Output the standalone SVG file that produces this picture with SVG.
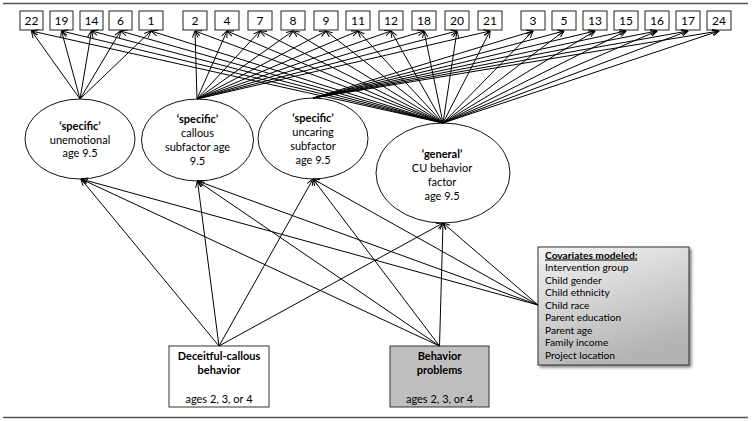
<svg xmlns="http://www.w3.org/2000/svg" width="752" height="421" viewBox="0 0 752 421">
<defs>
<marker id="ar" viewBox="0 0 10 10" refX="9.5" refY="5" markerWidth="7" markerHeight="7" orient="auto" markerUnits="userSpaceOnUse">
<path d="M0,1 L10,5 L0,9" fill="none" stroke="#000" stroke-width="1.4"/>
</marker>
<linearGradient id="cg" x1="0" y1="0" x2="0.4" y2="1">
<stop offset="0" stop-color="#f4f4f4"/>
<stop offset="1" stop-color="#b4b4b4"/>
</linearGradient>
<filter id="sh" x="-10%" y="-10%" width="130%" height="130%">
<feGaussianBlur in="SourceAlpha" stdDeviation="1.5"/>
<feOffset dx="2" dy="2" result="b"/>
<feComponentTransfer><feFuncA type="linear" slope="0.5"/></feComponentTransfer>
<feMerge><feMergeNode/><feMergeNode in="SourceGraphic"/></feMerge>
</filter>
</defs>
<style>
text{font-family:Lato,"Liberation Sans",sans-serif;fill:#000;}
.n{font-size:12px;text-anchor:middle;}
.e{font-size:11px;text-anchor:middle;}
.b{font-weight:bold;}
.item{fill:#fff;stroke:#222;stroke-width:1;}
.ell{fill:#fff;stroke:#111;stroke-width:1;}
.c line{stroke:#000;stroke-width:1;marker-end:url(#ar);}
.cov{font-size:10.2px;}
.rule{stroke:#555;stroke-width:1.3;}
</style>
<line class="rule" x1="3" y1="3.5" x2="748" y2="3.5"/>
<line class="rule" x1="3" y1="417.5" x2="748" y2="417.5"/>

<g id="item-22"><rect class="item" x="20" y="11" width="23" height="19"/><text class="n" x="31.5" y="25">22</text></g>
<g id="item-19"><rect class="item" x="50" y="11" width="23" height="19"/><text class="n" x="61.5" y="25">19</text></g>
<g id="item-14"><rect class="item" x="80" y="11" width="23" height="19"/><text class="n" x="91.5" y="25">14</text></g>
<g id="item-6"><rect class="item" x="109" y="11" width="23" height="19"/><text class="n" x="120.5" y="25">6</text></g>
<g id="item-1"><rect class="item" x="139" y="11" width="24" height="19"/><text class="n" x="151" y="25">1</text></g>
<g id="item-2"><rect class="item" x="183" y="11" width="24" height="19"/><text class="n" x="195" y="25">2</text></g>
<g id="item-4"><rect class="item" x="215" y="11" width="24" height="19"/><text class="n" x="227" y="25">4</text></g>
<g id="item-7"><rect class="item" x="248" y="11" width="24" height="19"/><text class="n" x="260" y="25">7</text></g>
<g id="item-8"><rect class="item" x="281" y="11" width="24" height="19"/><text class="n" x="293" y="25">8</text></g>
<g id="item-9"><rect class="item" x="314" y="11" width="24" height="19"/><text class="n" x="326" y="25">9</text></g>
<g id="item-11"><rect class="item" x="346" y="11" width="24" height="19"/><text class="n" x="358" y="25">11</text></g>
<g id="item-12"><rect class="item" x="379" y="11" width="24" height="19"/><text class="n" x="391" y="25">12</text></g>
<g id="item-18"><rect class="item" x="412" y="11" width="24" height="19"/><text class="n" x="424" y="25">18</text></g>
<g id="item-20"><rect class="item" x="445" y="11" width="24" height="19"/><text class="n" x="457" y="25">20</text></g>
<g id="item-21"><rect class="item" x="478" y="11" width="24" height="19"/><text class="n" x="490" y="25">21</text></g>
<g id="item-3"><rect class="item" x="521" y="11" width="24" height="19"/><text class="n" x="533" y="25">3</text></g>
<g id="item-5"><rect class="item" x="552" y="11" width="24" height="19"/><text class="n" x="564" y="25">5</text></g>
<g id="item-13"><rect class="item" x="583" y="11" width="24" height="19"/><text class="n" x="595" y="25">13</text></g>
<g id="item-15"><rect class="item" x="614" y="11" width="24" height="19"/><text class="n" x="626" y="25">15</text></g>
<g id="item-16"><rect class="item" x="645" y="11" width="24" height="19"/><text class="n" x="657" y="25">16</text></g>
<g id="item-17"><rect class="item" x="676" y="11" width="24" height="19"/><text class="n" x="688" y="25">17</text></g>
<g id="item-24"><rect class="item" x="707" y="11" width="24" height="19"/><text class="n" x="719" y="25">24</text></g>

<g id="f-unemotional"><ellipse class="ell" cx="80" cy="139" rx="55" ry="40"/>
<text class="e" x="80" y="130"><tspan class="b">‘specific’</tspan></text>
<text class="e" x="80" y="143.5">unemotional</text>
<text class="e" x="80" y="157">age 9.5</text></g>
<g id="f-callous"><ellipse class="ell" cx="197.5" cy="140" rx="56" ry="41"/>
<text class="e" x="197.5" y="123"><tspan class="b">‘specific’</tspan></text>
<text class="e" x="197.5" y="137">callous</text>
<text class="e" x="197.5" y="151">subfactor age</text>
<text class="e" x="197.5" y="165">9.5</text></g>
<g id="f-uncaring"><ellipse class="ell" cx="313" cy="138.5" rx="55" ry="40.5"/>
<text class="e" x="313" y="122"><tspan class="b">‘specific’</tspan></text>
<text class="e" x="313" y="136">uncaring</text>
<text class="e" x="313" y="150">subfactor</text>
<text class="e" x="313" y="164">age 9.5</text></g>
<g id="f-general"><ellipse class="ell" cx="443" cy="173" rx="67" ry="50"/>
<text class="e" x="442" y="158"><tspan class="b">‘general’</tspan></text>
<text class="e" x="442" y="172">CU behavior</text>
<text class="e" x="442" y="186">factor</text>
<text class="e" x="442" y="200">age 9.5</text></g>

<g id="deceitful-callous"><rect x="169" y="346" width="100" height="61" fill="#fff" stroke="#333" stroke-width="1"/>
<text class="e b" x="219" y="360">Deceitful-callous</text>
<text class="e b" x="219" y="374">behavior</text>
<text class="e" x="219" y="403">ages 2, 3, or 4</text></g>
<g id="behavior-problems"><rect x="390" y="346" width="99" height="61" fill="#bfbfbf" stroke="#333" stroke-width="1"/>
<text class="e b" x="439.5" y="360">Behavior</text>
<text class="e b" x="439.5" y="374">problems</text>
<text class="e" x="439.5" y="403">ages 2, 3, or 4</text></g>
<g id="covariates"><rect x="538" y="247" width="151" height="118" fill="url(#cg)" stroke="#333" stroke-width="1" filter="url(#sh)"/>
<text class="cov b" x="545" y="258.5" text-decoration="underline">Covariates modeled:</text>
<text class="cov" x="545" y="271">Intervention group</text>
<text class="cov" x="545" y="283.5">Child gender</text>
<text class="cov" x="545" y="296">Child ethnicity</text>
<text class="cov" x="545" y="308.5">Child race</text>
<text class="cov" x="545" y="321">Parent education</text>
<text class="cov" x="545" y="333.5">Parent age</text>
<text class="cov" x="545" y="346">Family income</text>
<text class="cov" x="545" y="358.5">Project location</text></g>

<g id="connectors" class="c">
<line x1="80" y1="99" x2="31.5" y2="31"/>
<line x1="80" y1="99" x2="61.5" y2="31"/>
<line x1="80" y1="99" x2="91.5" y2="31"/>
<line x1="80" y1="99" x2="120.5" y2="31"/>
<line x1="80" y1="99" x2="151" y2="31"/>
<line x1="197" y1="99" x2="195" y2="31"/>
<line x1="197" y1="99" x2="227" y2="31"/>
<line x1="197" y1="99" x2="260" y2="31"/>
<line x1="197" y1="99" x2="293" y2="31"/>
<line x1="197" y1="99" x2="326" y2="31"/>
<line x1="197" y1="99" x2="358" y2="31"/>
<line x1="197" y1="99" x2="391" y2="31"/>
<line x1="197" y1="99" x2="424" y2="31"/>
<line x1="197" y1="99" x2="457" y2="31"/>
<line x1="197" y1="99" x2="490" y2="31"/>
<line x1="313" y1="98" x2="533" y2="31"/>
<line x1="313" y1="98" x2="564" y2="31"/>
<line x1="313" y1="98" x2="595" y2="31"/>
<line x1="313" y1="98" x2="626" y2="31"/>
<line x1="313" y1="98" x2="657" y2="31"/>
<line x1="313" y1="98" x2="688" y2="31"/>
<line x1="313" y1="98" x2="719" y2="31"/>
<line x1="443" y1="123" x2="31.5" y2="31"/>
<line x1="443" y1="123" x2="61.5" y2="31"/>
<line x1="443" y1="123" x2="91.5" y2="31"/>
<line x1="443" y1="123" x2="120.5" y2="31"/>
<line x1="443" y1="123" x2="151" y2="31"/>
<line x1="443" y1="123" x2="195" y2="31"/>
<line x1="443" y1="123" x2="227" y2="31"/>
<line x1="443" y1="123" x2="260" y2="31"/>
<line x1="443" y1="123" x2="293" y2="31"/>
<line x1="443" y1="123" x2="326" y2="31"/>
<line x1="443" y1="123" x2="358" y2="31"/>
<line x1="443" y1="123" x2="391" y2="31"/>
<line x1="443" y1="123" x2="424" y2="31"/>
<line x1="443" y1="123" x2="457" y2="31"/>
<line x1="443" y1="123" x2="490" y2="31"/>
<line x1="443" y1="123" x2="533" y2="31"/>
<line x1="443" y1="123" x2="564" y2="31"/>
<line x1="443" y1="123" x2="595" y2="31"/>
<line x1="443" y1="123" x2="626" y2="31"/>
<line x1="443" y1="123" x2="657" y2="31"/>
<line x1="443" y1="123" x2="688" y2="31"/>
<line x1="443" y1="123" x2="719" y2="31"/>
<line x1="219" y1="346" x2="81" y2="179"/>
<line x1="219" y1="346" x2="197.5" y2="181"/>
<line x1="219" y1="346" x2="313" y2="179"/>
<line x1="219" y1="346" x2="443" y2="223"/>
<line x1="439.5" y1="346" x2="81" y2="179"/>
<line x1="439.5" y1="346" x2="197.5" y2="181"/>
<line x1="439.5" y1="346" x2="313" y2="179"/>
<line x1="439.5" y1="346" x2="443" y2="223"/>
<line x1="538" y1="305" x2="81" y2="179"/>
<line x1="538" y1="305" x2="197.5" y2="181"/>
<line x1="538" y1="305" x2="313" y2="179"/>
<line x1="538" y1="305" x2="443" y2="223"/>
</g>
</svg>
